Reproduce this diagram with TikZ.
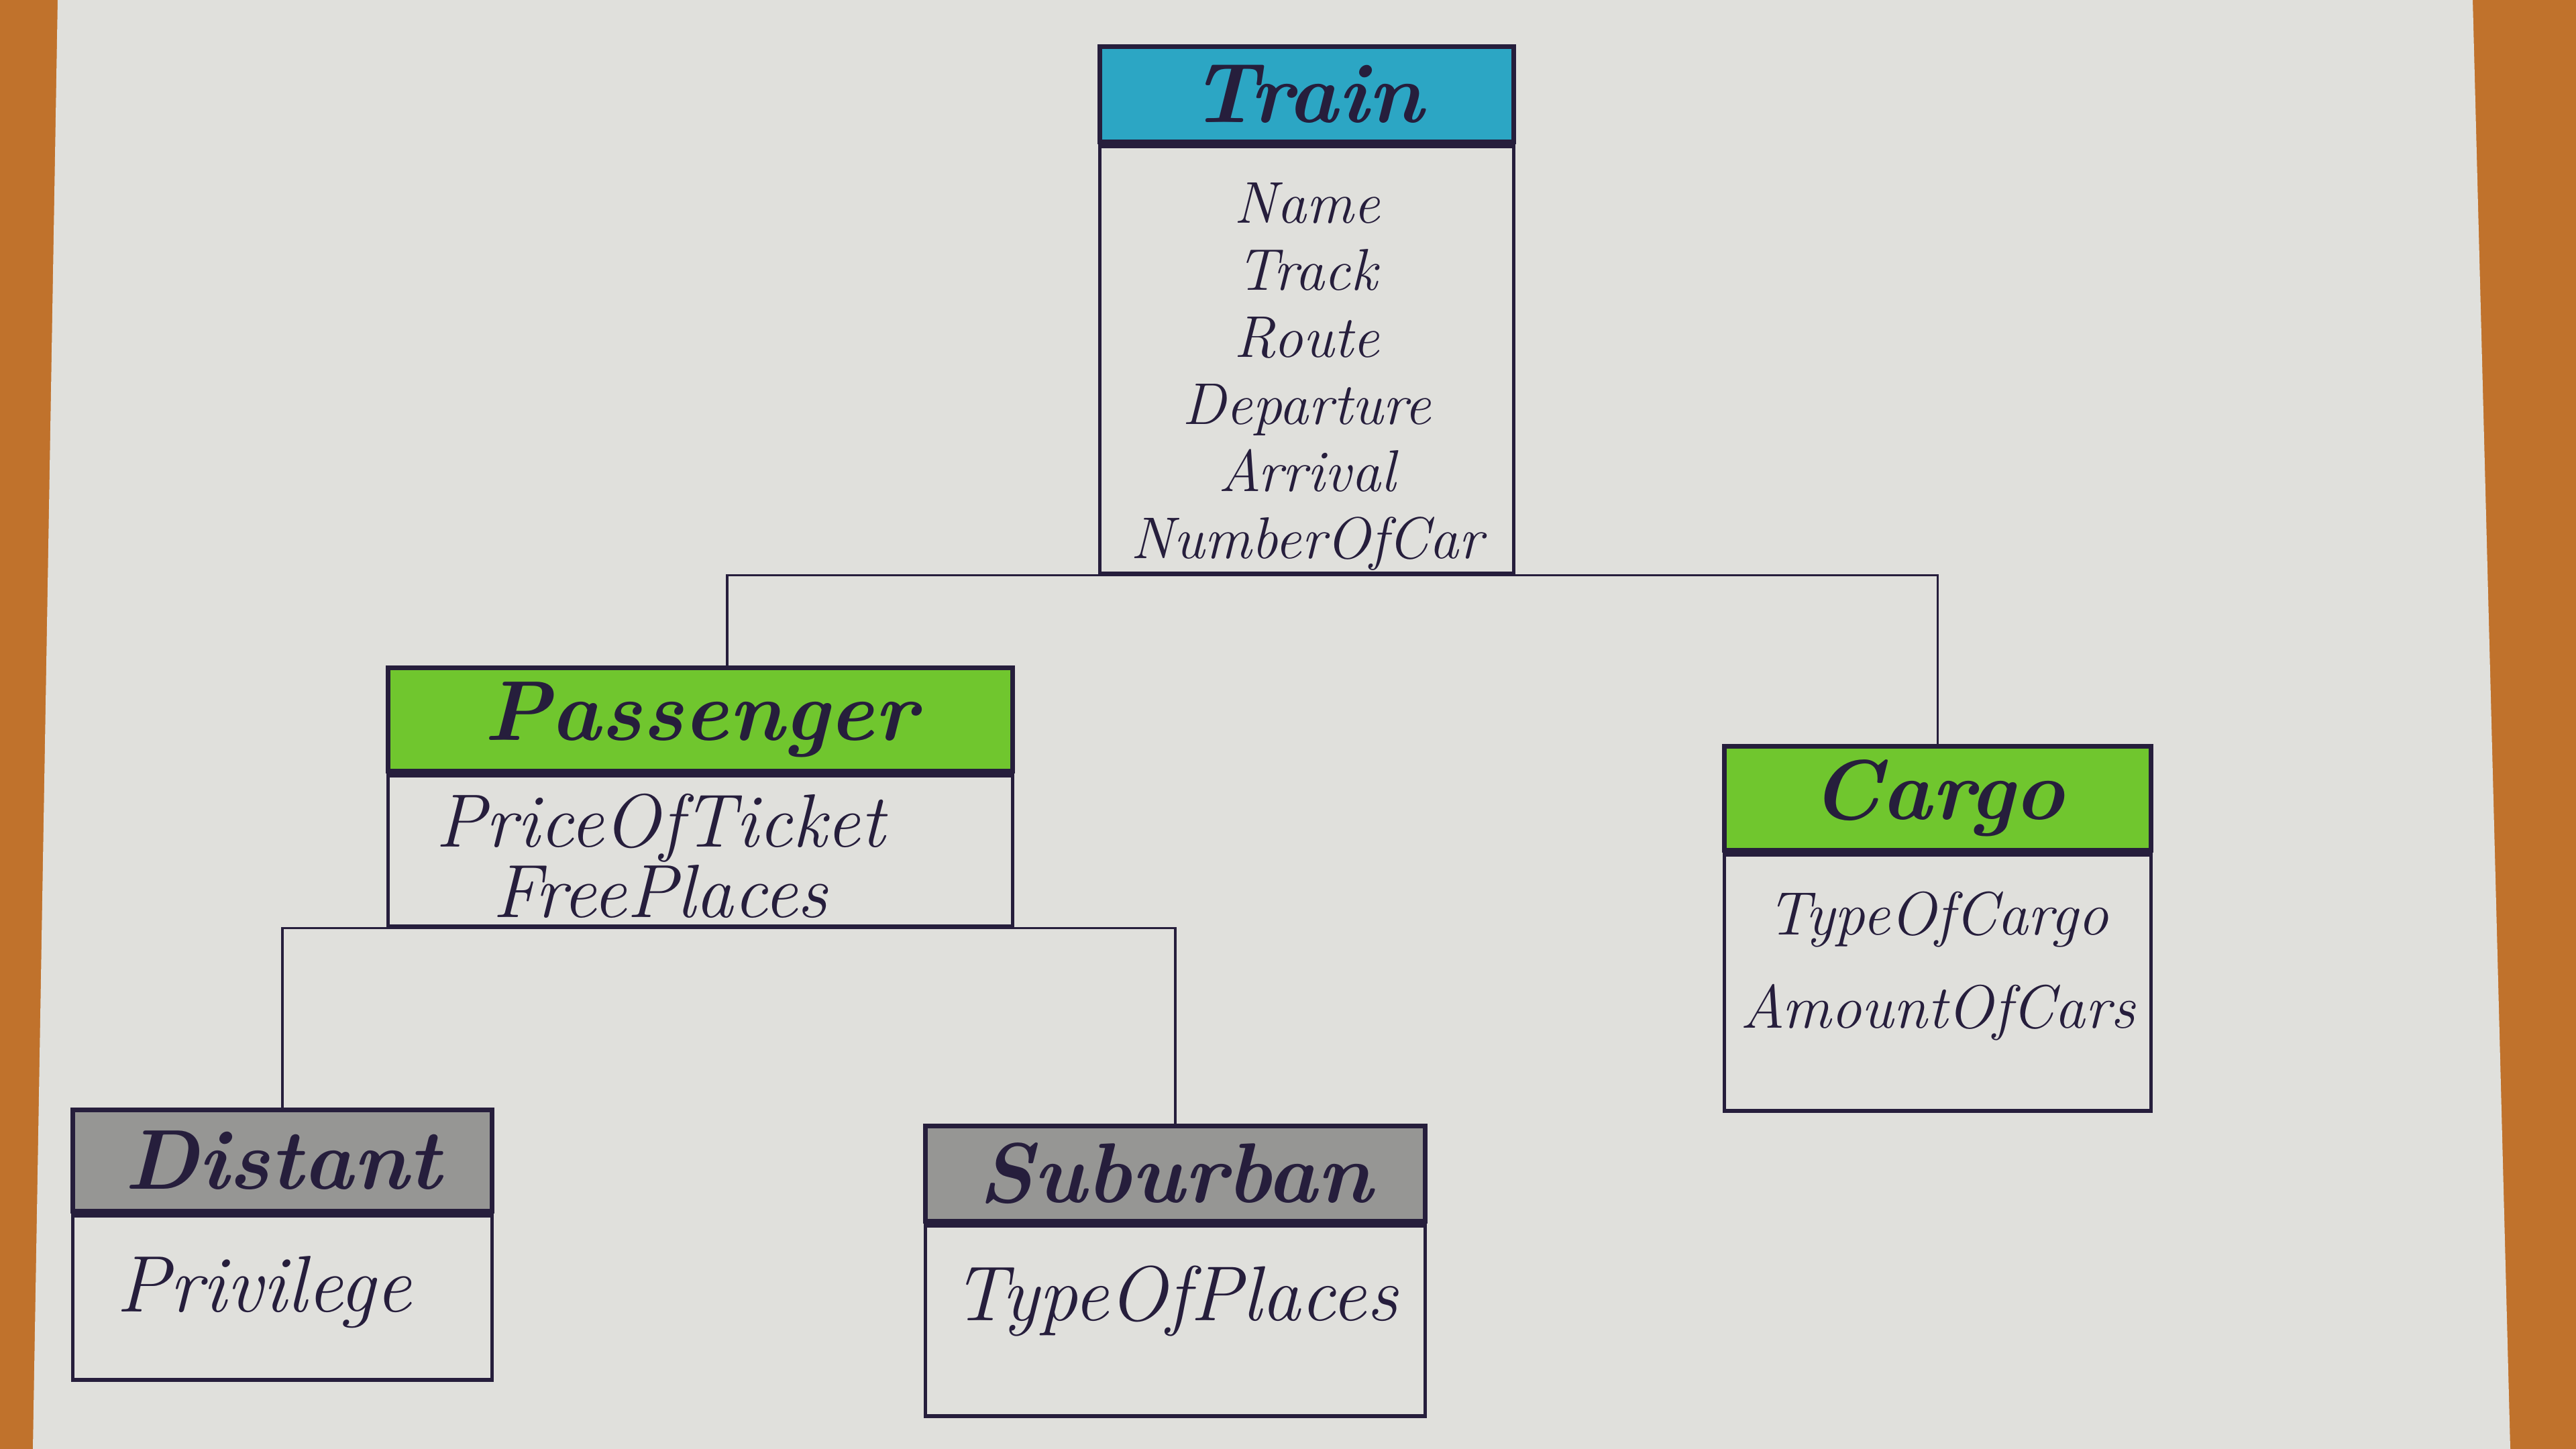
\documentclass[tikz,border=0pt]{standalone}
\usepackage{tikz}
\usetikzlibrary{positioning}

\definecolor{paper}{RGB}{224,224,220}
\definecolor{wood}{RGB}{192,114,44}
\definecolor{ink}{RGB}{38,30,60}
\definecolor{trainblue}{RGB}{44,166,196}
\definecolor{markgreen}{RGB}{112,198,46}
\definecolor{pencilgrey}{RGB}{150,150,148}

\tikzset{
  head/.style={draw=ink, line width=2pt, anchor=north west, inner sep=0pt, text=ink,
    font=\fontsize{36}{40}\selectfont\bfseries\itshape},
  body/.style={draw=ink, line width=1.6pt, below=0pt of #1, inner sep=0pt},
  attr/.style={text=ink, inner sep=0pt, align=center,
    font=\fontsize{#1}{28.45}\selectfont\itshape},
  link/.style={draw=ink, line width=1pt}
}

\begin{document}
\begin{tikzpicture} % class hierarchy of trains
\useasboundingbox (0,0) rectangle (38.4,21.6);
\fill[wood] (0,0) rectangle (38.4,21.6);
\fill[paper] (0.86,21.6) -- (0.49,0) -- (37.42,0) -- (36.86,21.6) -- cycle;

\node[head, fill=trainblue, minimum width=6.17cm, minimum height=1.42cm] (trainhead) at (16.36,20.94) {Train};
\node[body=trainhead, minimum width=6.17cm, minimum height=6.37cm] (train) {};
\node[attr=25, below=0.57cm of trainhead] (trainattr) {Name\\Track\\Route\\Departure\\Arrival\\NumberOfCar};

\node[head, fill=markgreen, minimum width=9.31cm, minimum height=1.54cm] (passhead) at (5.75,11.68) {Passenger};
\node[body=passhead, minimum width=9.31cm, minimum height=2.25cm] (passenger) {};
\node[attr=32, below=0.3cm of passhead, xshift=-0.6cm] (passattr) {PriceOfTicket\\FreePlaces};

\node[head, fill=markgreen, minimum width=6.36cm, minimum height=1.55cm] (cargohead) at (25.67,10.51) {Cargo};
\node[body=cargohead, minimum width=6.36cm, minimum height=3.82cm] (cargo) {};
\node[attr=26, below=0.57cm of cargohead] (cargoattr) {TypeOfCargo\\[0.39cm]AmountOfCars};

\node[head, fill=pencilgrey, minimum width=6.25cm, minimum height=1.51cm] (disthead) at (1.05,5.09) {Distant};
\node[body=disthead, minimum width=6.25cm, minimum height=2.45cm] (distant) {};
\node[attr=34, below=0.63cm of disthead, xshift=-0.28cm] (distattr) {Privilege};

\node[head, fill=pencilgrey, minimum width=7.45cm, minimum height=1.42cm] (subhead) at (13.76,4.85) {Suburban};
\node[body=subhead, minimum width=7.45cm, minimum height=2.84cm] (suburban) {};
\node[attr=33, below=0.62cm of subhead] (subattr) {TypeOfPlaces};

\draw[link] ([xshift=0.4cm]passhead.north) |- (train.south) -| (cargohead.north);
\draw[link] (disthead.north) |- (passenger.south) -| (subhead.north);
\end{tikzpicture}
\end{document}
